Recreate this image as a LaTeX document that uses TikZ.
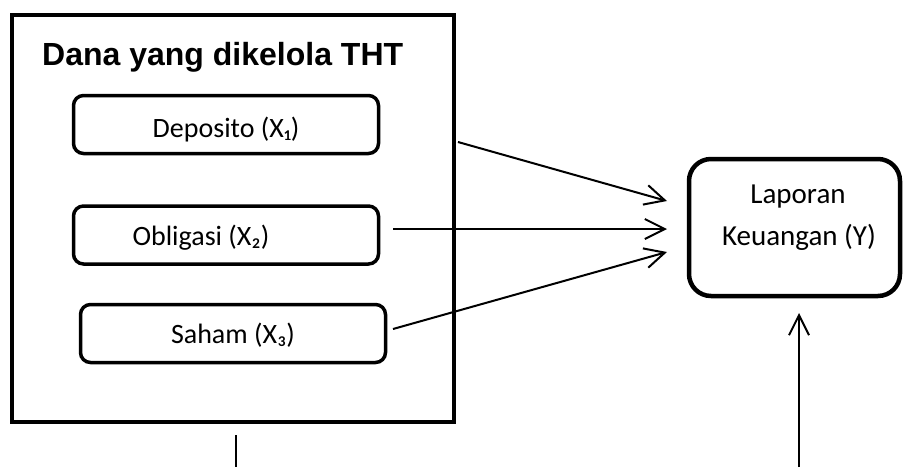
\documentclass[tikz,border=0pt]{standalone}
\usepackage{fontspec}
\setmainfont{Carlito}
\newfontfamily\titlefont{Liberation Sans}
\usetikzlibrary{arrows.meta}
\begin{document}
\begin{tikzpicture}[x=1pt,y=-1pt,
  item/.style={draw,line width=3.5pt,rounded corners=10pt,minimum width=305pt,minimum height=58pt,inner sep=0pt},
  lbl/.style={font=\fontsize{28}{32}\selectfont,anchor=base,inner sep=0pt},
  link/.style={line width=2pt,-{Straight Barb[length=20pt,width=20pt,line width=2pt]}}]
\useasboundingbox (0,0) rectangle (913,467);
% outer frame of managed funds
\node[draw,line width=4.5pt,minimum width=442pt,minimum height=407pt,inner sep=0pt] (fund) at (233,218.5) {};
\node[anchor=base west,font=\titlefont\bfseries\fontsize{32}{36}\selectfont,inner sep=0pt] (title) at (42,65) {Dana yang dikelola THT};
% investment boxes
\node[item] (dep) at (226,124.5) {};
\node[lbl] (deptxt) at (226,137) {Deposito (X₁)};
\node[item] (obl) at (226,235) {};
\node[lbl] (obltxt) at (201,245) {Obligasi (X₂)};
\node[item] (sah) at (233,333.5) {};
\node[lbl] (sahtxt) at (233,343) {Saham (X₃)};
% financial report box
\node[draw,line width=4.5pt,rounded corners=22pt,minimum width=211pt,minimum height=137pt,inner sep=0pt] (lap) at (794.5,227.5) {};
\node[lbl,font=\fontsize{29}{33}\selectfont] (laptxt1) at (798,203) {Laporan};
\node[lbl,font=\fontsize{29}{33}\selectfont] (laptxt2) at (799,245) {Keuangan (Y)};
% connector end points
\coordinate (s1) at (458,142); \coordinate (e1) at (667,201);
\coordinate (s2) at (393,229); \coordinate (e2) at (667,229);
\coordinate (s3) at (393,329); \coordinate (e3) at (667,252);
\coordinate (s4) at (799,467); \coordinate (e4) at (799,313);
\coordinate (l1) at (236,435); \coordinate (l2) at (236,467);
\draw[link] (s1) -- (e1);
\draw[link] (s2) -- (e2);
\draw[link] (s3) -- (e3);
\draw[link] (s4) -- (e4);
\draw[line width=2pt] (l1) -- (l2);
\end{tikzpicture}
\end{document}
